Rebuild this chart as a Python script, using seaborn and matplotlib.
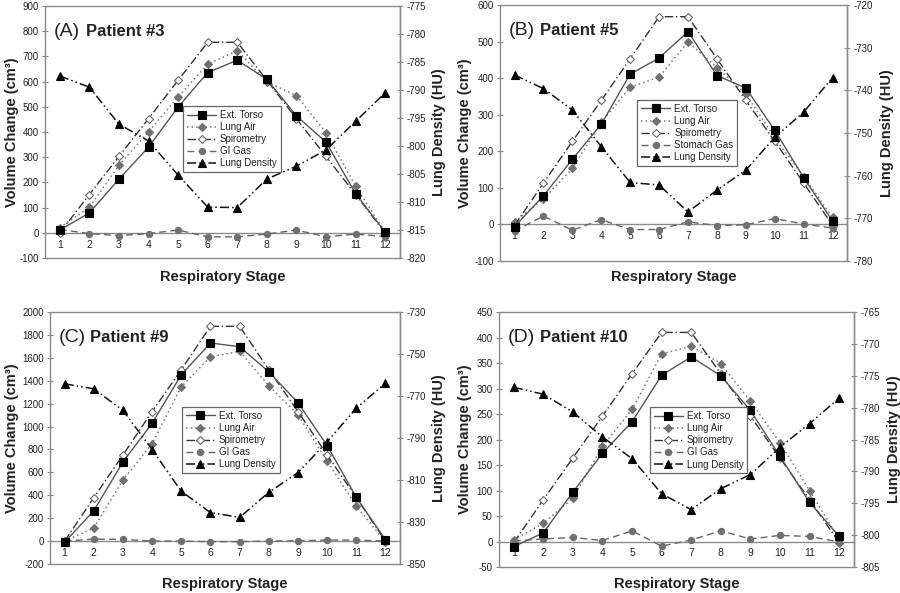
import matplotlib
matplotlib.use('Agg')
import matplotlib.pyplot as plt
import seaborn as sns
import numpy as np
from matplotlib.patches import Rectangle
from matplotlib.ticker import FixedLocator

sns.set_style('white')
plt.rcParams['font.family'] = ['Liberation Sans', 'DejaVu Sans']
plt.rcParams['axes.unicode_minus'] = False

stages = list(range(1, 13))
series_labels = ['Ext. Torso', 'Lung Air', 'Spirometry', 'GI Gas', 'Lung Density']

# Patient #3
p3_torso = [11, 79, 213, 340, 499, 636, 685, 609, 464, 360, 155, 3]
p3_air = [20, 101, 268, 401, 539, 669, 723, 599, 544, 397, 185, 2]
p3_spiro = [0, 152, 303, 453, 605, 756, 756, 605, 453, 303, 152, 0]
p3_gas = [13, -3, -11, -3, 11, -16, -16, -5, 11, -16, -5, -15]
p3_dens = [-787.5, -789.5, -796.1, -799.1, -805.2, -810.9, -811.0, -805.9, -803.6, -800.7, -795.6, -790.5]

# Patient #5
p5_torso = [-6, 78, 178, 274, 411, 455, 527, 407, 373, 257, 128, 9]
p5_air = [7, 69, 153, 279, 375, 403, 499, 429, 356, 237, 130, 19]
p5_spiro = [-3, 113, 227, 339, 453, 568, 568, 453, 339, 227, 113, -3]
p5_gas = [-18, 23, -16, 13, -14, -14, 7, -3, -1, 16, 1, -10]
p5_dens = [-736.4, -739.6, -744.6, -753.2, -761.6, -762.2, -768.5, -763.4, -758.7, -751.0, -745.1, -737.0]

# Patient #9
p9_torso = [-10, 265, 691, 1029, 1452, 1729, 1697, 1478, 1207, 834, 382, 12]
p9_air = [0, 114, 534, 851, 1347, 1609, 1656, 1356, 1102, 697, 306, -5]
p9_spiro = [0, 379, 752, 1131, 1496, 1875, 1875, 1496, 1131, 752, 379, 0]
p9_gas = [0, 17, 15, 0, 0, -5, -5, 0, 3, 9, 9, 0]
p9_dens = [-764.2, -766.6, -776.9, -795.5, -815.4, -825.5, -827.8, -815.9, -806.5, -791.8, -775.8, -763.9]

# Patient #10
p10_torso = [-10, 17, 97, 173, 235, 326, 362, 325, 257, 167, 77, 10]
p10_air = [3, 36, 85, 187, 259, 368, 383, 349, 275, 194, 100, 5]
p10_spiro = [-2, 82, 164, 246, 329, 410, 410, 329, 246, 164, 82, -2]
p10_gas = [1, 5, 8, 2, 21, -9, 3, 21, 5, 12, 10, -1]
p10_dens = [-776.8, -777.9, -780.7, -784.6, -788.0, -793.5, -796.0, -792.7, -790.5, -786.2, -782.5, -778.5]

fig = plt.figure(figsize=(9, 5.93), dpi=100)

FRAME = '#8a8a8a'
TXT = '#222222'


def panel(rect, letter, patient, torso, air, spiro, gas, gas_label, dens,
          ylim, ystep, rlim, rstep, leg_anchor, ylab_x, rlab_x, xlab_y):
    ax = fig.add_axes(rect)
    ax2 = ax.twinx()
    handles = []
    sns.lineplot(x=stages, y=torso, ax=ax, color='#555555', linestyle='-', linewidth=1.0,
                 marker='s', markersize=5.5, markerfacecolor='black', markeredgecolor='black',
                 markeredgewidth=0.8, legend=False, zorder=5)
    handles.append(ax.lines[-1])
    sns.lineplot(x=stages, y=air, ax=ax, color='#777777', linestyle=(0, (1, 2)), linewidth=1.1,
                 marker='D', markersize=4.5, markerfacecolor='#707070', markeredgecolor='#707070',
                 markeredgewidth=0.8, legend=False, zorder=4)
    handles.append(ax.lines[-1])
    sns.lineplot(x=stages, y=spiro, ax=ax, color='#333333', linestyle=(0, (6, 2, 1, 2)), linewidth=1.0,
                 marker='D', markersize=4.5, markerfacecolor='white', markeredgecolor='#666666',
                 markeredgewidth=0.8, legend=False, zorder=4)
    handles.append(ax.lines[-1])
    sns.lineplot(x=stages, y=gas, ax=ax, color='#666666', linestyle=(0, (5, 3)), linewidth=1.0,
                 marker='o', markersize=4.5, markerfacecolor='#707070', markeredgecolor='#707070',
                 markeredgewidth=0.8, legend=False, zorder=4)
    handles.append(ax.lines[-1])
    sns.lineplot(x=stages, y=dens, ax=ax2, color='#111111', linestyle=(0, (6, 2, 1, 2, 1, 2)), linewidth=1.1,
                 marker='^', markersize=5.5, markerfacecolor='black', markeredgecolor='black',
                 markeredgewidth=0.8, legend=False, zorder=4)
    handles.append(ax2.lines[-1])

    ax.set_xlim(0.5, 12.5)
    ax.set_ylim(*ylim)
    ax.yaxis.set_major_locator(FixedLocator(np.arange(ylim[0], ylim[1] + ystep / 2, ystep)))
    ax2.set_ylim(*rlim)
    ax2.yaxis.set_major_locator(FixedLocator(np.arange(rlim[0], rlim[1] + rstep / 2, rstep)))

    ax.xaxis.set_major_locator(FixedLocator(stages))
    ax.xaxis.set_minor_locator(FixedLocator([s + 0.5 for s in stages[:-1]]))
    ax.set_xticklabels([str(s) for s in stages])

    for sp in ['top', 'right', 'left']:
        ax.spines[sp].set_visible(False)
    ax.spines['bottom'].set_position(('data', 0))
    ax.spines['bottom'].set_color(FRAME)
    ax.spines['bottom'].set_linewidth(1.0)
    for sp in ['top', 'bottom', 'left']:
        ax2.spines[sp].set_visible(False)
    ax2.spines['right'].set_color(FRAME)
    ax2.spines['right'].set_linewidth(1.0)
    ax.add_patch(Rectangle((0, 0), 1, 1, transform=ax.transAxes, fill=False,
                           edgecolor=FRAME, linewidth=1.0, clip_on=False, zorder=1))

    ax.tick_params(axis='x', which='major', length=0, pad=5, labelsize=7.5, labelcolor=TXT)
    ax.tick_params(axis='x', which='minor', direction='inout', length=5, width=0.8, color=FRAME)
    ax.tick_params(axis='y', direction='inout', length=5, width=0.8, color=FRAME,
                   labelsize=7, labelcolor=TXT, pad=2, left=True)
    ax2.tick_params(axis='y', direction='inout', length=5, width=0.8, color=FRAME,
                    labelsize=7, labelcolor=TXT, pad=2, right=True)

    ax.set_xlabel('Respiratory Stage', fontsize=10.5, fontweight='bold', color=TXT)
    ax.xaxis.set_label_coords(0.5, xlab_y)
    ax.set_ylabel('Volume Change (cm³)', fontsize=10.5, fontweight='bold', color=TXT)
    ax.yaxis.set_label_coords(ylab_x, 0.5)
    ax2.set_ylabel('Lung Density (HU)', fontsize=10.5, fontweight='bold', color=TXT)
    ax2.yaxis.set_label_coords(rlab_x, 0.5)

    ax.text(0.026, 0.9, f'({letter})', transform=ax.transAxes, fontsize=14,
            va='center', ha='left', color=TXT)
    ax.text(0.115, 0.9, patient, transform=ax.transAxes, fontsize=12, fontweight='bold',
            va='center', ha='left', color=TXT)

    labels = list(series_labels)
    labels[3] = gas_label
    leg = ax2.legend(handles, labels, loc='upper left', bbox_to_anchor=leg_anchor,
                     fontsize=7, frameon=True, fancybox=False, shadow=False,
                     handlelength=3.0, handletextpad=0.4, borderpad=0.4,
                     labelspacing=0.22, framealpha=1, edgecolor='#666666',
                     borderaxespad=0)
    leg.get_frame().set_linewidth(0.9)
    for t in leg.get_texts():
        t.set_color(TXT)
    return ax, ax2


panel([0.05, 0.5649, 0.3944, 0.425], 'A', 'Patient #3', p3_torso, p3_air, p3_spiro, p3_gas,
      'GI Gas', p3_dens, (-100, 900), 100, (-820, -775), 5, (0.389, 0.603), -0.073, 1.09, -0.048)
panel([0.5556, 0.5599, 0.3856, 0.4317], 'B', 'Patient #5', p5_torso, p5_air, p5_spiro, p5_gas,
      'Stomach Gas', p5_dens, (-100, 600), 100, (-780, -720), 10, (0.395, 0.629), -0.08, 1.095, -0.035)
panel([0.0556, 0.0489, 0.3889, 0.425], 'C', 'Patient #9', p9_torso, p9_air, p9_spiro, p9_gas,
      'GI Gas', p9_dens, (-200, 2000), 200, (-850, -730), 20, (0.377, 0.623), -0.09, 1.09, -0.052)
panel([0.5544, 0.0438, 0.3944, 0.43], 'D', 'Patient #10', p10_torso, p10_air, p10_spiro, p10_gas,
      'GI Gas', p10_dens, (-50, 450), 50, (-805, -765), 5, (0.425, 0.627), -0.077, 1.092, -0.039)

fig.savefig('out.png', dpi=100)
